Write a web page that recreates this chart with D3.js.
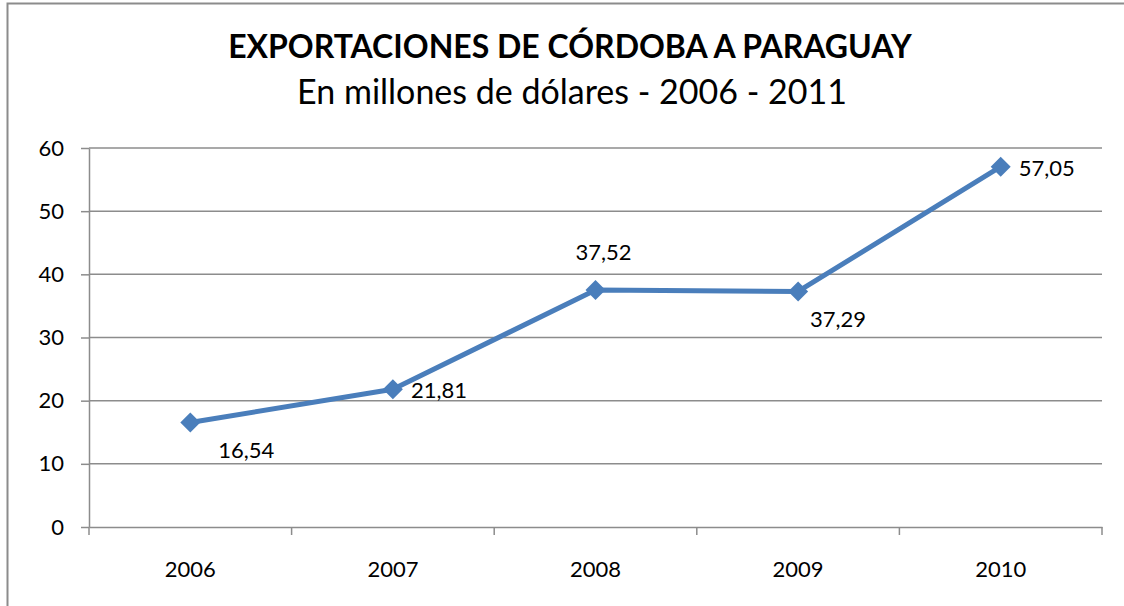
<!DOCTYPE html>
<meta charset="utf-8">
<style>

body {
  margin: 0;
  overflow: hidden;
}

svg {
  display: block;
}

.grid line, .axis path, .axis line {
  stroke: #8c8c8c;
  stroke-width: 1.5px;
}

</style>
<body>
<script src="https://d3js.org/d3.v7.js"></script>
<script>

var years = ["2006", "2007", "2008", "2009", "2010"];

var exports = [16.54, 21.81, 37.52, 37.29, 57.05];

var labels = ["16,54", "21,81", "37,52", "37,29", "57,05"];

// where each value label sits relative to its marker
var labelSide = ["belowRight", "right", "above", "below", "right"];

var yTicks = [0, 10, 20, 30, 40, 50, 60];

var width = 1124;
var height = 606;

var font = "Lato, 'Open Sans', sans-serif";

var margin = {top: 148, right: 22, bottom: 79, left: 89};

var innerWidth = width - margin.left - margin.right;
var innerHeight = height - margin.top - margin.bottom;

var svg = d3.select("body").append("svg")
    .attr("width", width)
    .attr("height", height)
    .attr("font-family", font);

// outer frame (only top and left edges fall inside the picture)
svg.append("path")
    .attr("d", `M7.5,${height}V3.5H${width}`)
    .attr("fill", "none")
    .attr("stroke", "#8c8c8c")
    .attr("stroke-width", 2);

svg.append("text")
    .attr("x", 570)
    .attr("y", 58)
    .attr("text-anchor", "middle")
    .attr("font-size", 32)
    .attr("font-weight", "bold")
    .text("EXPORTACIONES DE CÓRDOBA A PARAGUAY");

svg.append("text")
    .attr("x", 572)
    .attr("y", 104)
    .attr("text-anchor", "middle")
    .attr("font-size", 34)
    .text("En millones de dólares - 2006 - 2011");

var g = svg.append("g")
    .attr("transform", `translate(${margin.left}, ${margin.top})`);

var xScale = d3.scaleBand()
    .domain(years)
    .range([0, innerWidth]);

var yScale = d3.scaleLinear()
    .domain([0, 60])
    .range([innerHeight, 0]);

// horizontal gridlines
g.append("g")
    .attr("class", "grid")
  .selectAll("line")
  .data(yTicks.filter(d => d > 0))
  .enter()
  .append("line")
    .attr("x1", 0)
    .attr("x2", innerWidth)
    .attr("y1", d => yScale(d))
    .attr("y2", d => yScale(d));

var yAxis = d3.axisLeft(yScale)
    .tickValues(yTicks)
    .tickSize(8)
    .tickSizeOuter(0)
    .tickPadding(17);

g.append("g")
    .attr("class", "axis")
    .call(yAxis)
    .attr("font-size", 22)
    .attr("font-family", font)
  .selectAll("text")
    .attr("fill", "black");

var xAxis = d3.axisBottom(xScale)
    .tickSize(0)
    .tickSizeOuter(0)
    .tickPadding(34);

var xG = g.append("g")
    .attr("class", "axis")
    .attr("transform", `translate(0, ${innerHeight})`)
    .call(xAxis)
    .attr("font-size", 22)
    .attr("font-family", font);

xG.selectAll("text")
    .attr("fill", "black");

// category boundary ticks
xG.selectAll("line.bound")
  .data(d3.range(years.length + 1))
  .enter()
  .append("line")
    .attr("class", "bound")
    .attr("x1", i => i * xScale.step())
    .attr("x2", i => i * xScale.step())
    .attr("y1", 0)
    .attr("y2", 8);

var points = years.map((y, i) => ({year: y, value: exports[i], label: labels[i], side: labelSide[i]}));

var cx = d => xScale(d.year) + xScale.bandwidth() / 2;

var line = d3.line()
    .x(cx)
    .y(d => yScale(d.value));

g.append("path")
    .datum(points)
    .attr("d", line)
    .attr("fill", "none")
    .attr("stroke", "#4a7ebb")
    .attr("stroke-width", 5)
    .attr("stroke-linejoin", "round");

g.selectAll("path.marker")
  .data(points)
  .enter()
  .append("path")
    .attr("class", "marker")
    .attr("transform", d => `translate(${cx(d)}, ${yScale(d.value)})`)
    .attr("d", "M0,-10L10,0L0,10L-10,0Z")
    .attr("fill", "#4a7ebb");

var offsets = {
  belowRight: {dx: 56, dy: 35},
  below: {dx: 40, dy: 36},
  right: {dx: 46, dy: 9},
  above: {dx: 8, dy: -30}
};

g.selectAll("text.value")
  .data(points)
  .enter()
  .append("text")
    .attr("class", "value")
    .attr("x", d => cx(d) + offsets[d.side].dx)
    .attr("y", d => yScale(d.value) + offsets[d.side].dy)
    .attr("text-anchor", "middle")
    .attr("font-size", 22)
    .text(d => d.label);

</script>
